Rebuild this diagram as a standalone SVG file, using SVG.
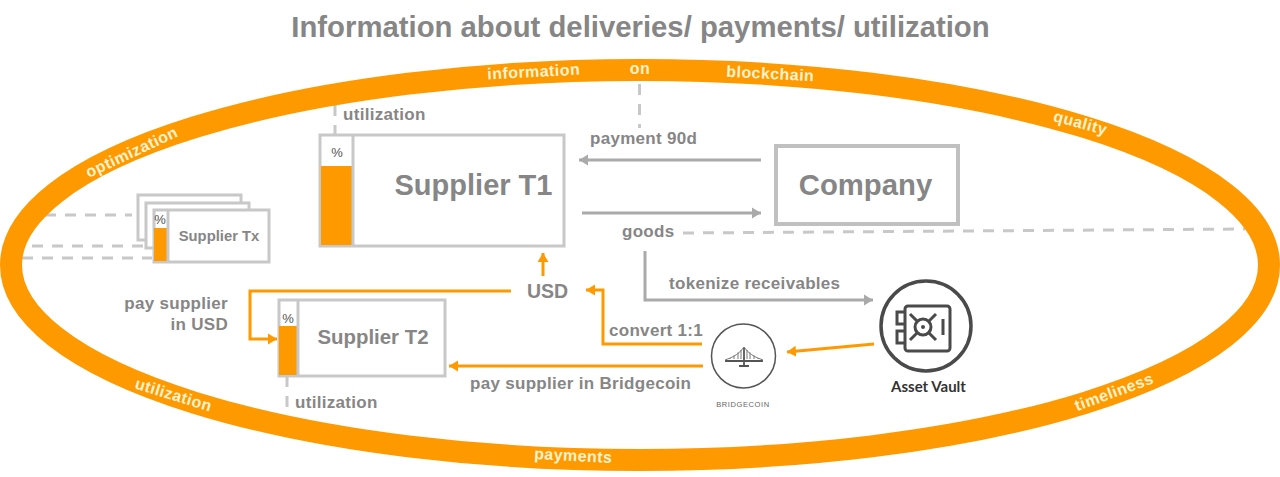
<svg xmlns="http://www.w3.org/2000/svg" width="1280" height="477" viewBox="0 0 1280 477">
<style>
text{font-family:"Liberation Sans",Arial,sans-serif;font-weight:700;fill:#868686}
.r{fill:#fff3cf;font-size:16px;letter-spacing:.45px;text-anchor:middle}
.l{font-size:17px;letter-spacing:.3px}
.box{fill:#fff;stroke:#c8c8c8;stroke-width:3}
.dash{fill:none;stroke:#c8c8c8;stroke-width:3;stroke-dasharray:11 9}
.g{fill:none;stroke:#aaa;stroke-width:3}
.o{fill:none;stroke:#ff9900;stroke-width:3}
.bar{fill:#ff9900}
.pct{font-weight:400;fill:#555;text-anchor:middle}
.ic{fill:none;stroke:#4a4a4a;stroke-width:3}
</style>
<defs>
<marker id="ag" markerUnits="userSpaceOnUse" markerWidth="10" markerHeight="12" refX="9" refY="6" orient="auto"><path d="M0 .5L9 6L0 11.500z" fill="#aaa"/></marker>
<marker id="ao" markerUnits="userSpaceOnUse" markerWidth="10" markerHeight="12" refX="9" refY="6" orient="auto"><path d="M0 .5L9 6L0 11.500z" fill="#ff9900"/></marker>
</defs>
<text x="640.500" y="37" text-anchor="middle" style="font-size:29.300px">Information about deliveries/ payments/ utilization</text>
<g id="connectors">
<path class="dash" d="M639.500 84V128M335 105V134M287 376V415M45 215H132M32 246H143M22 258H152M683 233L1245 229"/>
<path class="g" d="M761 160H579" marker-end="url(#ag)"/>
<path class="g" d="M582 213H761" marker-end="url(#ag)"/>
<path class="g" d="M645 251V300H873" marker-end="url(#ag)"/>
<path class="o" d="M543 276V253" marker-end="url(#ao)"/>
<path class="o" d="M511 291H250V339H277" marker-end="url(#ao)"/>
<path class="o" d="M702 344H603V290H586" marker-end="url(#ao)"/>
<path class="o" d="M703 366H449" marker-end="url(#ao)"/>
<path class="o" d="M874 344L787 352" marker-end="url(#ao)"/>
</g>
<g id="ring">
<ellipse cx="640" cy="265" rx="629" ry="195" fill="none" stroke="#ff9900" stroke-width="22"/>
<text class="r" transform="translate(534 77) rotate(-3)">information</text>
<text class="r" transform="translate(640 74)">on</text>
<text class="r" transform="translate(770 79) rotate(3)">blockchain</text>
<text class="r" transform="translate(1079 128) rotate(15)">quality</text>
<text class="r" transform="translate(134 157) rotate(-25)">optimization</text>
<text class="r" transform="translate(172 400) rotate(17)">utilization</text>
<text class="r" transform="translate(573 461) rotate(3)">payments</text>
<text class="r" transform="translate(1116 397) rotate(-20)">timeliness</text>
</g>
<g id="supplier-tx">
<rect class="box" x="138" y="195" width="103" height="45"/>
<rect class="box" x="146" y="203" width="103" height="45"/>
<rect class="box" x="154" y="210" width="115" height="52"/>
<rect class="bar" x="154" y="228" width="14" height="33"/>
<path d="M168 210V262" stroke="#c8c8c8" stroke-width="3"/>
<text class="pct" x="160" y="224" style="font-size:13px">%</text>
<text x="219" y="241" text-anchor="middle" style="font-size:14.800px">Supplier Tx</text>
</g>
<g id="supplier-t1">
<rect class="box" x="320" y="135" width="244" height="111"/>
<rect class="bar" x="321" y="166" width="31" height="79"/>
<path d="M353 135V246" stroke="#c8c8c8" stroke-width="3"/>
<text class="pct" x="337" y="157" style="font-size:13px">%</text>
<text x="473.500" y="195" text-anchor="middle" style="font-size:29px">Supplier T1</text>
</g>
<g id="company">
<rect x="776" y="146" width="182" height="78" fill="#fff" stroke="#c0c0c0" stroke-width="4"/>
<text x="865.500" y="195" text-anchor="middle" style="font-size:29.300px">Company</text>
</g>
<g id="supplier-t2">
<rect class="box" x="279" y="300" width="166" height="76"/>
<rect class="bar" x="279" y="326" width="18" height="49"/>
<path d="M298 300V376" stroke="#c8c8c8" stroke-width="3"/>
<text class="pct" x="288" y="323" style="font-size:13px">%</text>
<text x="373" y="344" text-anchor="middle" style="font-size:20.400px">Supplier T2</text>
</g>
<g id="labels">
<text class="l" x="343" y="120">utilization</text>
<text class="l" x="295" y="408">utilization</text>
<text class="l" x="590" y="144">payment 90d</text>
<text class="l" x="622" y="237">goods</text>
<text class="l" x="669" y="289">tokenize receivables</text>
<text class="l" x="609" y="336">convert 1:1</text>
<text class="l" x="470" y="389">pay supplier in Bridgecoin</text>
<text class="l" x="228" y="309" text-anchor="end">pay supplier</text>
<text class="l" x="228" y="330" text-anchor="end">in USD</text>
<text x="547.500" y="298" text-anchor="middle" style="font-size:19.500px">USD</text>
</g>
<g id="bridgecoin">
<circle cx="743.500" cy="356" r="32" fill="#fff" stroke="#555" stroke-width="1.500"/>
<path d="M725 361H763M744 348V366M739 366H749" fill="none" stroke="#555" stroke-width="1.800"/>
<path d="M725 360Q738 356 744 347Q750 356 763 360M730 359V358M734 359V355.500M738 359V352.500M741 359V350M747 359V350M750 359V352.500M754 359V355.500M758 359V358" fill="none" stroke="#777" stroke-width="1"/>
<text x="743" y="407" text-anchor="middle" style="font-size:7.500px;letter-spacing:.6px;fill:#666;font-weight:400">BRIDGECOIN</text>
</g>
<g id="asset-vault">
<circle cx="926" cy="326" r="45" fill="#fff" stroke="#4a4a4a" stroke-width="3.500"/>
<rect class="ic" x="905" y="306" width="45" height="45" rx="3"/>
<path class="ic" d="M905 312H897V324H905M905 331H897V343H905"/>
<circle class="ic" cx="923" cy="327" r="8"/>
<circle cx="923" cy="327" r="2" fill="#4a4a4a"/>
<path class="ic" d="M929 321L936 314M917 321L910 314M917 333L910 340M929 333L936 340M943 319V335"/>
<text x="928.500" y="392" text-anchor="middle" style="font-family:Lato,sans-serif;font-size:15px;fill:#333">Asset Vault</text>
</g>
</svg>
